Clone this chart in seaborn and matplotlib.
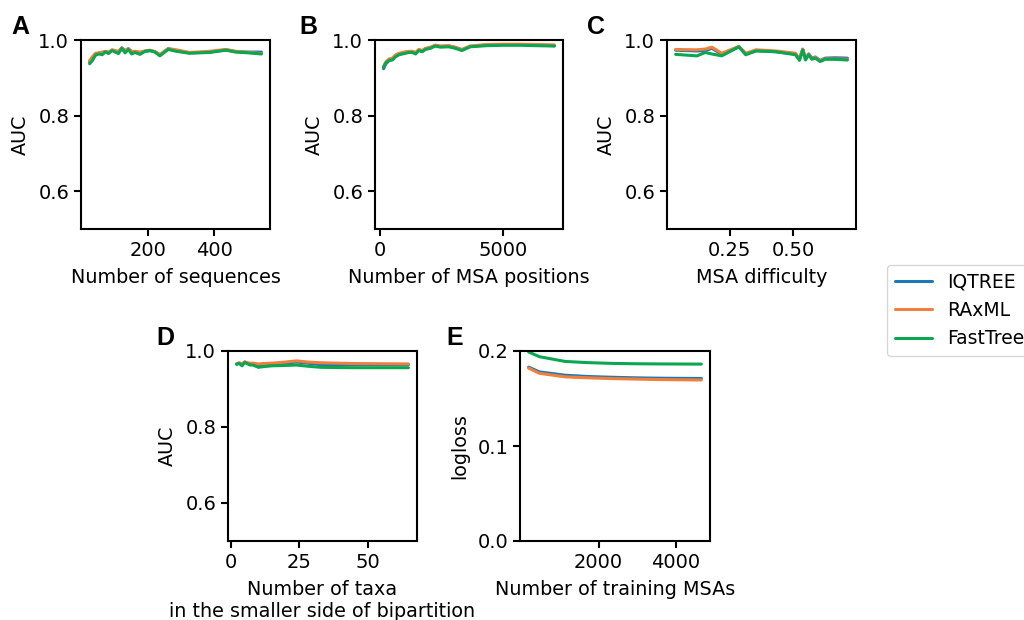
import numpy as np
import pandas as pd
import matplotlib
matplotlib.use("Agg")
import matplotlib.pyplot as plt
import seaborn as sns

methods = ["IQTREE", "RAxML", "FastTree"]
colors = ["#1f77b4", "#f07f3c", "#0aa650"]

# Panel A: Number of sequences
a_x = [24, 32, 42, 52, 62, 72, 81, 92, 101, 111, 121, 131, 141, 151, 161, 176,
       191, 206, 221, 236, 261, 286, 325, 385, 435, 465, 504, 542]
a_iq = [0.942, 0.952, 0.963, 0.965, 0.966, 0.969, 0.967, 0.973, 0.971, 0.968, 0.979, 0.972, 0.977, 0.968,
        0.969, 0.966, 0.970, 0.972, 0.969, 0.960, 0.977, 0.972, 0.966, 0.968, 0.974, 0.969, 0.968, 0.968]
a_rx = [0.945, 0.955, 0.965, 0.966, 0.968, 0.970, 0.968, 0.974, 0.972, 0.970, 0.979, 0.972, 0.977, 0.970,
        0.970, 0.968, 0.971, 0.973, 0.969, 0.962, 0.977, 0.974, 0.967, 0.970, 0.975, 0.970, 0.967, 0.964]
a_ft = [0.937, 0.945, 0.960, 0.963, 0.961, 0.969, 0.964, 0.972, 0.968, 0.964, 0.978, 0.966, 0.975, 0.963,
        0.967, 0.962, 0.970, 0.972, 0.968, 0.958, 0.975, 0.970, 0.965, 0.967, 0.973, 0.968, 0.966, 0.963]

# Panel B: Number of MSA positions
b_x = [149, 242, 376, 511, 645, 780, 914, 1048, 1183, 1317, 1452, 1586, 1720, 1855, 2056,
       2258, 2460, 2796, 3065, 3333, 3669, 4341, 5013, 5685, 6357, 7097]
b_iq = [0.924, 0.937, 0.946, 0.949, 0.958, 0.962, 0.965, 0.967, 0.969, 0.969, 0.966, 0.974, 0.971, 0.977,
        0.980, 0.986, 0.983, 0.984, 0.980, 0.974, 0.983, 0.987, 0.988, 0.988, 0.987, 0.985]
b_rx = [0.930, 0.942, 0.950, 0.952, 0.961, 0.965, 0.967, 0.969, 0.970, 0.970, 0.967, 0.975, 0.972, 0.978,
        0.981, 0.986, 0.984, 0.985, 0.981, 0.975, 0.984, 0.988, 0.989, 0.989, 0.988, 0.987]
b_ft = [0.928, 0.939, 0.946, 0.947, 0.956, 0.961, 0.963, 0.965, 0.967, 0.967, 0.963, 0.972, 0.969, 0.975,
        0.978, 0.984, 0.981, 0.982, 0.978, 0.972, 0.982, 0.985, 0.986, 0.986, 0.985, 0.984]

# Panel C: MSA difficulty
c_x = [0.035, 0.120, 0.152, 0.179, 0.218, 0.286, 0.313, 0.354, 0.432, 0.510, 0.526, 0.539,
       0.550, 0.5625, 0.575, 0.589, 0.608, 0.628, 0.667, 0.716]
c_iq = [0.973, 0.971, 0.972, 0.978, 0.962, 0.982, 0.963, 0.972, 0.969, 0.963, 0.949, 0.975,
        0.950, 0.963, 0.952, 0.955, 0.946, 0.952, 0.953, 0.952]
c_rx = [0.975, 0.974, 0.976, 0.981, 0.965, 0.983, 0.965, 0.974, 0.971, 0.965, 0.950, 0.976,
        0.950, 0.963, 0.951, 0.954, 0.945, 0.950, 0.950, 0.949]
c_ft = [0.962, 0.958, 0.967, 0.963, 0.958, 0.982, 0.961, 0.971, 0.969, 0.961, 0.946, 0.974,
        0.947, 0.961, 0.949, 0.952, 0.943, 0.949, 0.949, 0.947]

# Panel D: Number of taxa in smaller side of bipartition
d_x = [2, 3, 4, 5, 6, 7, 8, 10, 12, 15, 20, 24, 28, 33, 45, 65]
d_iq = [0.966, 0.968, 0.965, 0.971, 0.968, 0.966, 0.967, 0.962, 0.964, 0.966, 0.968, 0.971, 0.968, 0.964, 0.964, 0.964]
d_rx = [0.966, 0.969, 0.966, 0.971, 0.969, 0.968, 0.968, 0.966, 0.967, 0.968, 0.971, 0.974, 0.971, 0.969, 0.967, 0.966]
d_ft = [0.965, 0.967, 0.961, 0.970, 0.966, 0.963, 0.963, 0.957, 0.959, 0.961, 0.962, 0.963, 0.960, 0.957, 0.956, 0.956]

# Panel E: Number of training MSAs
e_x = [180, 460, 1130, 1700, 2300, 2900, 3500, 4100, 4670]
e_iq = [0.183, 0.178, 0.1745, 0.1732, 0.1724, 0.1718, 0.1714, 0.1712, 0.1711]
e_rx = [0.182, 0.1765, 0.1728, 0.1718, 0.1710, 0.1705, 0.1700, 0.1697, 0.1695]
e_ft = [0.199, 0.194, 0.189, 0.1878, 0.1870, 0.1866, 0.1864, 0.1863, 0.1862]

panels = [
    ("A", a_x, [a_iq, a_rx, a_ft], "Number of sequences", "AUC"),
    ("B", b_x, [b_iq, b_rx, b_ft], "Number of MSA positions", "AUC"),
    ("C", c_x, [c_iq, c_rx, c_ft], "MSA difficulty", "AUC"),
    ("D", d_x, [d_iq, d_rx, d_ft], "Number of taxa\nin the smaller side of bipartition", "AUC"),
    ("E", e_x, [e_iq, e_rx, e_ft], "Number of training MSAs", "logloss"),
]

sns.set_theme(style="ticks")
plt.rcParams["font.family"] = ["DejaVu Sans"]
for k in ["text.color", "axes.labelcolor", "xtick.color", "ytick.color", "axes.edgecolor"]:
    plt.rcParams[k] = "black"
plt.rcParams["axes.linewidth"] = 1.5
plt.rcParams["xtick.major.width"] = 1.5
plt.rcParams["ytick.major.width"] = 1.5
plt.rcParams["xtick.major.size"] = 5
plt.rcParams["ytick.major.size"] = 5

W, H = 1024, 620
fig = plt.figure(figsize=(W / 100, H / 100), dpi=100)

# axes boxes in pixels: (left, top, right, bottom)
boxes = [(81, 40, 270, 229), (375, 40, 563, 229), (667, 40, 856, 229),
         (228, 351, 417, 541), (520, 351, 710, 541)]
letter_pos = [(11, 15), (299, 15), (587, 15), (156, 326), (446, 326)]

TICK_FS = 14
LABEL_FS = 13.8
handles = None
for (letter, xs, ys, xlabel, ylabel), (l, t, r, b), (lx, ly) in zip(panels, boxes, letter_pos):
    ax = fig.add_axes([l / W, 1 - b / H, (r - l) / W, (b - t) / H])
    df = pd.concat([pd.DataFrame({"x": xs, "y": y, "method": m}) for m, y in zip(methods, ys)])
    sns.lineplot(data=df, x="x", y="y", hue="method", hue_order=methods,
                 palette=colors, linewidth=2.2, ax=ax)
    handles, labels = ax.get_legend_handles_labels()
    ax.get_legend().remove()
    ax.set_xlabel(xlabel, fontsize=LABEL_FS, labelpad=6)
    ax.set_ylabel(ylabel, fontsize=LABEL_FS, labelpad=6)
    ax.tick_params(labelsize=TICK_FS)
    if letter == "E":
        ax.set_ylim(0.0, 0.2)
        ax.set_yticks([0.0, 0.1, 0.2])
        ax.set_xticks([2000, 4000])
    else:
        ax.set_ylim(0.5, 1.0)
        ax.set_yticks([0.6, 0.8, 1.0])
    if letter == "A":
        ax.set_xticks([200, 400])
    elif letter == "B":
        ax.set_xticks([0, 5000])
    elif letter == "C":
        ax.set_xticks([0.25, 0.50])
        ax.set_xticklabels(["0.25", "0.50"])
    elif letter == "D":
        ax.set_xticks([0, 25, 50])
    ax.yaxis.set_major_formatter(matplotlib.ticker.FormatStrFormatter("%.1f"))
    fig.text(lx / W, 1 - ly / H, letter, fontsize=18, fontweight="bold",
             family=["Liberation Sans", "DejaVu Sans"], ha="left", va="top")

leg = fig.legend(handles, methods, loc="upper left", bbox_to_anchor=(887 / W, 1 - 265 / H),
                 fontsize=13.5, frameon=True, borderaxespad=0.0)
for line in leg.get_lines():
    line.set_linewidth(2.2)

fig.savefig("out.png", dpi=100)
